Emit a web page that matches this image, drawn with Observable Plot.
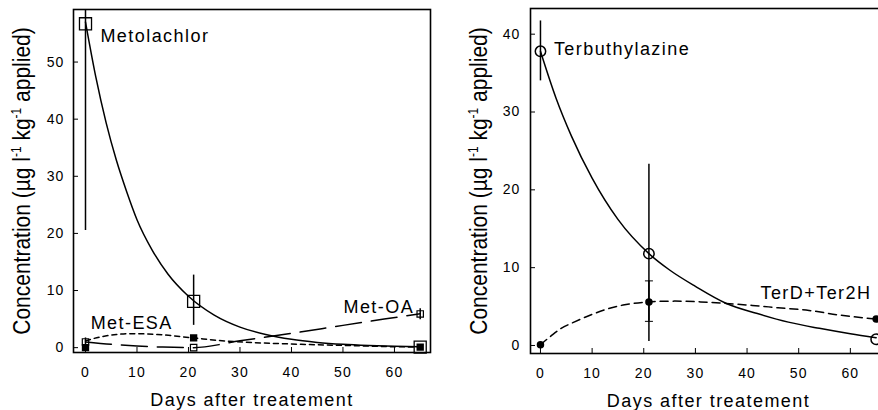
<!DOCTYPE html>
<html><head><meta charset="utf-8">
<script src="https://cdn.jsdelivr.net/npm/d3@7"></script>
<script src="https://cdn.jsdelivr.net/npm/@observablehq/plot@0.6"></script>
<style>
body{margin:0;background:#fff;}
#wrap{position:relative;width:878px;height:410px;overflow:hidden;background:#fff;}
#left,#right{position:absolute;top:0;height:410px;}
#left{left:0;width:440px;} #right{left:440px;width:456px;}
#wrap svg{max-width:none !important;}
#wrap svg text{font-family:"Liberation Sans",Arial,sans-serif;letter-spacing:0.08em;}
#wrap svg text.ytitle{letter-spacing:0;}
</style></head>
<body><div id="wrap"><div id="left"></div><div id="right"></div></div>
<script>
// ---------- data ----------
const xTicks = [0, 10, 20, 30, 40, 50, 60];
const yTicksLeft = [0, 10, 20, 30, 40, 50];
const yTicksRight = [0, 10, 20, 30, 40];
const xTitle = "Days after treatement";

const days = [0, 21, 65];
// left panel: metolachlor and metabolites
const metolachlor = [56.7, 8.1, 0.1];
const metolachlorLow = [20.5, 3.9, null];
const metolachlorHigh = [93, 12.7, null];
const metEsa = [0.0, 1.7, 0.1];
const metOa = [1.0, 0.0, 5.9];
const metOaLow = [0.2, null, 4.9];
const metOaHigh = [1.7, null, 6.8];

const metolachlorFitDays = [0, 2, 4, 6, 8, 10, 13, 16, 20, 25, 30, 35, 40, 45, 50, 55, 60, 65];
const metolachlorFit = [57, 47.4, 39.4, 32.8, 27.3, 22.4, 17.0, 12.9, 9.0, 5.7, 3.6, 2.3, 1.45, 0.92, 0.58, 0.37, 0.23, 0.14];
const metEsaFitDays = [0, 3, 6, 9, 14, 21, 26, 31, 38, 45, 52, 58, 65];
const metEsaFit = [1.2, 1.9, 2.3, 2.45, 2.3, 1.7, 1.25, 0.95, 0.7, 0.5, 0.35, 0.2, 0.1];
const metOaFitDays = [0, 5, 10, 15, 21, 30, 40, 50, 58, 65];
const metOaFit = [1.0, 0.6, 0.3, 0.1, 0.0, 1.2, 2.5, 3.9, 5.0, 5.95];

// right panel: terbuthylazine and metabolites
const terbuthylazine = [37.8, 11.8, 0.8];
const terbuthylazineLow = [34.0, 0.5, null];
const terbuthylazineHigh = [41.7, 23.3, null];
const terMetabolites = [0.1, 5.6, 3.4];
const terMetabolitesLow = [null, 3.1, null];
const terMetabolitesHigh = [null, 8.3, null];

const terbFitDays = [0, 3, 6, 10, 15, 21, 25, 30, 36, 42, 48, 54, 60, 65];
const terbFit = [37.8, 31.8, 26.9, 21.5, 16.2, 11.8, 9.7, 7.6, 5.4, 4.1, 3.0, 2.2, 1.5, 1.0];
const terMetFitDays = [0, 2, 4, 6.5, 10, 13, 16, 21, 26, 31, 36, 41, 46, 52, 58, 65];
const terMetFit = [0.1, 1.2, 2.2, 3.0, 4.0, 4.7, 5.2, 5.6, 5.7, 5.6, 5.4, 5.15, 4.85, 4.5, 3.9, 3.4];

// ---------- helpers ----------
const pts = (xs, ys) => xs.map((x, i) => ({x, y: ys[i]}));
const bars = (xs, lo, hi) => xs.map((x, i) => ({x, lo: lo[i], hi: hi[i]})).filter(d => d.lo != null);
const caps = (xs, lo, hi) => bars(xs, lo, hi).flatMap(d => [{x: d.x, y: d.lo}, {x: d.x, y: d.hi}]);
const capSymbol = {draw(ctx, size) { const r = Math.sqrt(size / Math.PI); ctx.moveTo(-r, 0); ctx.lineTo(r, 0); }};
const style = {fontFamily: "Liberation Sans, Arial, sans-serif", fontSize: "14px", background: "white", color: "black", overflow: "visible"};

function yTitle(svg, x, y) {
  const t = d3.select(svg).append("text")
    .attr("class", "ytitle")
    .attr("transform", `translate(${x},${y}) rotate(-90) scale(1,1.15)`)
    .attr("text-anchor", "middle")
    .attr("font-size", 21)
    .attr("fill", "black");
  t.append("tspan").text("Concentration (µg l");
  t.append("tspan").attr("font-size", 12).attr("dy", -8).text("-1");
  t.append("tspan").attr("dy", 8).text(" kg");
  t.append("tspan").attr("font-size", 12).attr("dy", -8).text("-1");
  t.append("tspan").attr("dy", 8).text(" applied)");
}

// ---------- left panel ----------
const left = Plot.plot({
  width: 440, height: 410,
  marginLeft: 73, marginRight: 10, marginTop: 9, marginBottom: 58,
  x: {domain: [-2.33, 67]},
  y: {domain: [-0.85, 59.2]},
  style,
  marks: [
    Plot.line(pts(metolachlorFitDays, metolachlorFit), {x: "x", y: "y", curve: "monotone-x", stroke: "black", strokeWidth: 1.5}),
    Plot.line(pts(metEsaFitDays, metEsaFit), {x: "x", y: "y", curve: "monotone-x", stroke: "black", strokeWidth: 1.5, strokeDasharray: "5,4"}),
    Plot.line(pts(metOaFitDays, metOaFit), {x: "x", y: "y", curve: "monotone-x", stroke: "black", strokeWidth: 1.5, strokeDasharray: "26,10"}),
    Plot.ruleX(bars(days, metolachlorLow, metolachlorHigh), {x: "x", y1: "lo", y2: "hi", stroke: "black", strokeWidth: 1.5, clip: true}),
    Plot.ruleX(bars(days, metOaLow, metOaHigh), {x: "x", y1: "lo", y2: "hi", stroke: "black", strokeWidth: 1.5}),
    Plot.dot(pts(days, metolachlor), {x: "x", y: "y", symbol: "square", r: 6.8, fill: "none", stroke: "black", strokeWidth: 1.3}),
    Plot.dot(pts(days, metOa), {x: "x", y: "y", symbol: "square", r: 3.6, fill: "none", stroke: "black", strokeWidth: 1.2}),
    Plot.dot(pts(days, metEsa), {x: "x", y: "y", symbol: "square", r: 3.3, fill: "black", stroke: "black"}),
    Plot.text(["Metolachlor"], {x: 2.9, y: 54.6, text: d => d, textAnchor: "start", fontSize: 18}),
    Plot.text(["Met-ESA"], {x: 1.0, y: 4.3, text: d => d, textAnchor: "start", fontSize: 18}),
    Plot.text(["Met-OA"], {x: 50.1, y: 7.1, text: d => d, textAnchor: "start", fontSize: 18}),
    Plot.frame({stroke: "black", strokeWidth: 1.6}),
    Plot.axisX({ticks: xTicks, tickSize: -5, tickPadding: 20, label: null, fontSize: 14}),
    Plot.axisY({ticks: yTicksLeft, tickSize: -5, tickPadding: 14, label: null, fontSize: 14}),
    Plot.text([xTitle], {frameAnchor: "bottom", dy: 53, lineAnchor: "bottom", text: d => d, fontSize: 18})
  ]
});
yTitle(left, 30, 181);
document.getElementById("left").append(left);

// ---------- right panel ----------
const right = Plot.plot({
  width: 456, height: 410,
  marginLeft: 90, marginRight: 10, marginTop: 8, marginBottom: 57,
  x: {domain: [-1.93, 67]},
  y: {domain: [-1.03, 43.3]},
  style,
  marks: [
    Plot.line(pts(terbFitDays, terbFit), {x: "x", y: "y", curve: "monotone-x", stroke: "black", strokeWidth: 1.5}),
    Plot.line(pts(terMetFitDays, terMetFit), {x: "x", y: "y", curve: "monotone-x", stroke: "black", strokeWidth: 1.5, strokeDasharray: "8,5"}),
    Plot.ruleX(bars(days, terbuthylazineLow, terbuthylazineHigh), {x: "x", y1: "lo", y2: "hi", stroke: "black", strokeWidth: 1.5}),
    Plot.ruleX(bars(days, terMetabolitesLow, terMetabolitesHigh), {x: "x", y1: "lo", y2: "hi", stroke: "black", strokeWidth: 1.5}),
    Plot.dot(caps(days, terMetabolitesLow, terMetabolitesHigh), {x: "x", y: "y", symbol: capSymbol, r: 4, stroke: "black", strokeWidth: 1}),
    Plot.dot(pts(days, terbuthylazine), {x: "x", y: "y", symbol: "circle", r: 5.2, fill: "none", stroke: "black", strokeWidth: 1.5}),
    Plot.dot(pts(days, terMetabolites), {x: "x", y: "y", symbol: "circle", r: 3, fill: "black", stroke: "black"}),
    Plot.text(["Terbuthylazine"], {x: 2.6, y: 38.1, text: d => d, textAnchor: "start", fontSize: 18}),
    Plot.text(["TerD+Ter2H"], {x: 42.6, y: 6.65, text: d => d, textAnchor: "start", fontSize: 18}),
    Plot.frame({stroke: "black", strokeWidth: 1.6}),
    Plot.axisX({ticks: xTicks, tickSize: -5, tickPadding: 20, label: null, fontSize: 14}),
    Plot.axisY({ticks: yTicksRight, tickSize: -5, tickPadding: 15, label: null, fontSize: 14}),
    Plot.text([xTitle], {frameAnchor: "bottom", dy: 53, lineAnchor: "bottom", text: d => d, fontSize: 18})
  ]
});
yTitle(right, 47, 181);
document.getElementById("right").append(right);
</script>
</body></html>
